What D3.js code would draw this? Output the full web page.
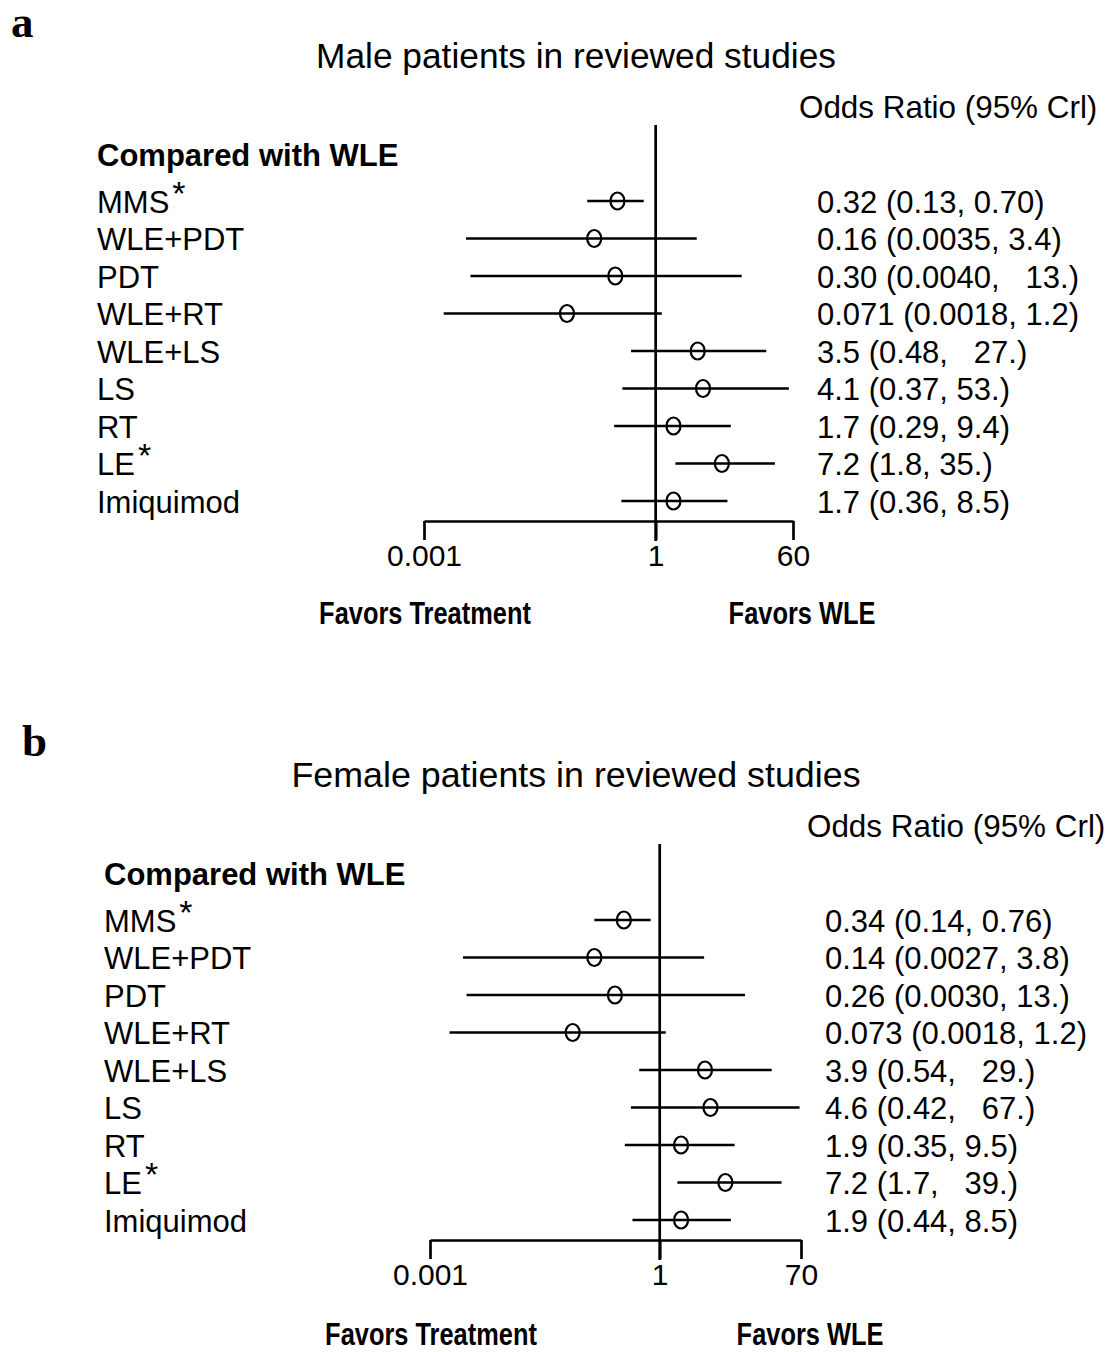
<!DOCTYPE html>
<html>
<head>
<meta charset="utf-8">
<script src="https://cdn.jsdelivr.net/npm/d3@7"></script>
<style>
  body { margin: 0; background: #fff; }
  svg { display: block; }
  text { fill: #000; }
</style>
</head>
<body>
<svg id="chart"></svg>
<script>
// treatments compared with WLE, same order in both panels
const treatments = ["MMS", "WLE+PDT", "PDT", "WLE+RT", "WLE+LS", "LS", "RT", "LE", "Imiquimod"];
const starred = ["MMS", "LE"];

// male patients
const maleOR   = [0.32, 0.16, 0.30, 0.071, 3.5, 4.1, 1.7, 7.2, 1.7];
const maleLow  = [0.13, 0.0035, 0.0040, 0.0018, 0.48, 0.37, 0.29, 1.8, 0.36];
const maleHigh = [0.70, 3.4, 13, 1.2, 27, 53, 9.4, 35, 8.5];
const maleText = ["0.32 (0.13, 0.70)", "0.16 (0.0035, 3.4)", "0.30 (0.0040,   13.)",
  "0.071 (0.0018, 1.2)", "3.5 (0.48,   27.)", "4.1 (0.37, 53.)", "1.7 (0.29, 9.4)",
  "7.2 (1.8, 35.)", "1.7 (0.36, 8.5)"];
const maleTicks = [0.001, 1, 60];

// female patients
const femaleOR   = [0.34, 0.14, 0.26, 0.073, 3.9, 4.6, 1.9, 7.2, 1.9];
const femaleLow  = [0.14, 0.0027, 0.0030, 0.0018, 0.54, 0.42, 0.35, 1.7, 0.44];
const femaleHigh = [0.76, 3.8, 13, 1.2, 29, 67, 9.5, 39, 8.5];
const femaleText = ["0.34 (0.14, 0.76)", "0.14 (0.0027, 3.8)", "0.26 (0.0030, 13.)",
  "0.073 (0.0018, 1.2)", "3.9 (0.54,   29.)", "4.6 (0.42,   67.)", "1.9 (0.35, 9.5)",
  "7.2 (1.7,   39.)", "1.9 (0.44, 8.5)"];
const femaleTicks = [0.001, 1, 70];

const width = 1120, height = 1352;
const font = "'Liberation Sans', Arial, sans-serif";

const svg = d3.select("#chart")
  .attr("width", width)
  .attr("height", height);

function drawPanel(opt) {
  const g = svg.append("g").attr("transform", `translate(${opt.dx},${opt.dy})`);

  const ticks = opt.ticks;
  const x = d3.scaleLog()
    .domain([ticks[0], ticks[2]])
    .range([opt.x0, opt.x1]);

  const y = d3.scalePoint()
    .domain(treatments)
    .range([202, 502]);

  const rows = treatments.map((t, i) => ({
    name: t, or: opt.or[i], lo: opt.lo[i], hi: opt.hi[i], text: opt.text[i]
  }));

  // panel letter
  g.append("text")
    .attr("x", opt.letterX).attr("y", 37)
    .style("font-family", "'Liberation Serif', 'Times New Roman', serif")
    .style("font-weight", "bold")
    .style("font-size", "45px")
    .text(opt.letter);

  // title
  g.append("text")
    .attr("x", 576 - opt.dx).attr("y", 68)
    .attr("text-anchor", "middle")
    .style("font-family", font)
    .style("font-size", opt.titleSize)
    .text(opt.title);

  g.append("text")
    .attr("x", x(ticks[2]) + 6).attr("y", 107).attr("dy", "0.35em")
    .style("font-family", font)
    .style("font-size", "31.4px")
    .text("Odds Ratio (95% Crl)");

  g.append("text")
    .attr("x", 97).attr("y", 155).attr("dy", "0.35em")
    .style("font-family", font)
    .style("font-weight", "bold")
    .style("font-size", "31px")
    .text("Compared with WLE");

  // row labels
  const lab = g.selectAll(".lab")
    .data(rows)
    .enter()
    .append("text")
    .attr("class", "lab")
    .attr("x", 97)
    .attr("y", d => y(d.name))
    .attr("dy", "0.35em")
    .style("font-family", font)
    .style("font-size", "31px")
    .text(d => d.name);
  lab.filter(d => starred.includes(d.name))
    .append("tspan")
    .attr("dx", 3)
    .attr("dy", -8)
    .style("font-size", "34px")
    .text("*");

  // value labels
  g.selectAll(".val")
    .data(rows)
    .enter()
    .append("text")
    .attr("class", "val")
    .attr("x", x(ticks[2]) + 24)
    .attr("y", d => y(d.name))
    .attr("dy", "0.35em")
    .style("font-family", font)
    .style("font-size", "31px")
    .style("white-space", "pre")
    .text(d => d.text);

  // reference line at OR = 1
  g.append("line")
    .attr("x1", x(1)).attr("x2", x(1))
    .attr("y1", 125).attr("y2", 541)
    .attr("stroke", "#000").attr("stroke-width", 2.7);

  // intervals
  g.selectAll(".ci")
    .data(rows)
    .enter()
    .append("line")
    .attr("class", "ci")
    .attr("x1", d => x(d.lo))
    .attr("x2", d => x(d.hi))
    .attr("y1", d => y(d.name) - 1)
    .attr("y2", d => y(d.name) - 1)
    .attr("stroke", "#000")
    .attr("stroke-width", 2.7);

  g.selectAll(".pt")
    .data(rows)
    .enter()
    .append("ellipse")
    .attr("class", "pt")
    .attr("cx", d => x(d.or))
    .attr("cy", d => y(d.name) - 1)
    .attr("rx", 7)
    .attr("ry", 8.5)
    .attr("fill", "none")
    .attr("stroke", "#000")
    .attr("stroke-width", 2.2);

  // axis
  const axis = d3.axisBottom(x)
    .tickValues(ticks)
    .tickSize(19)
    .tickSizeOuter(0)
    .tickPadding(5)
    .tickFormat(d => String(d));

  const ax = g.append("g")
    .attr("transform", "translate(0,521)")
    .call(axis);
  ax.attr("font-family", null).attr("font-size", null);
  ax.select(".domain").attr("stroke-width", 2.7);
  ax.selectAll(".tick line").attr("stroke-width", 2.7);
  ax.selectAll(".tick text")
    .style("font-family", font)
    .style("font-size", "30px")
    .attr("fill", "#000");

  // favour labels, narrow bold
  const fav = [
    { label: "Favors Treatment", cx: x(ticks[0]) + 1 },
    { label: "Favors WLE", cx: x(ticks[2]) + 9 }
  ];
  g.selectAll(".fav")
    .data(fav)
    .enter()
    .append("g")
    .attr("class", "fav")
    .attr("transform", d => `translate(${d.cx},${opt.favY}) scale(0.82,1)`)
    .append("text")
    .attr("text-anchor", "middle")
    .attr("dy", "0.35em")
    .style("font-family", font)
    .style("font-weight", "bold")
    .style("font-size", "31px")
    .text(d => d.label);
}

drawPanel({
  letter: "a", letterX: 11, title: "Male patients in reviewed studies", titleSize: "35.3px",
  dx: 0, dy: 0, x0: 424, x1: 793, favY: 613,
  or: maleOR, lo: maleLow, hi: maleHigh, text: maleText, ticks: maleTicks
});

drawPanel({
  letter: "b", letterX: 15, title: "Female patients in reviewed studies", titleSize: "35.8px",
  dx: 7, dy: 719, x0: 423, x1: 794, favY: 615,
  or: femaleOR, lo: femaleLow, hi: femaleHigh, text: femaleText, ticks: femaleTicks
});
</script>
</body>
</html>
